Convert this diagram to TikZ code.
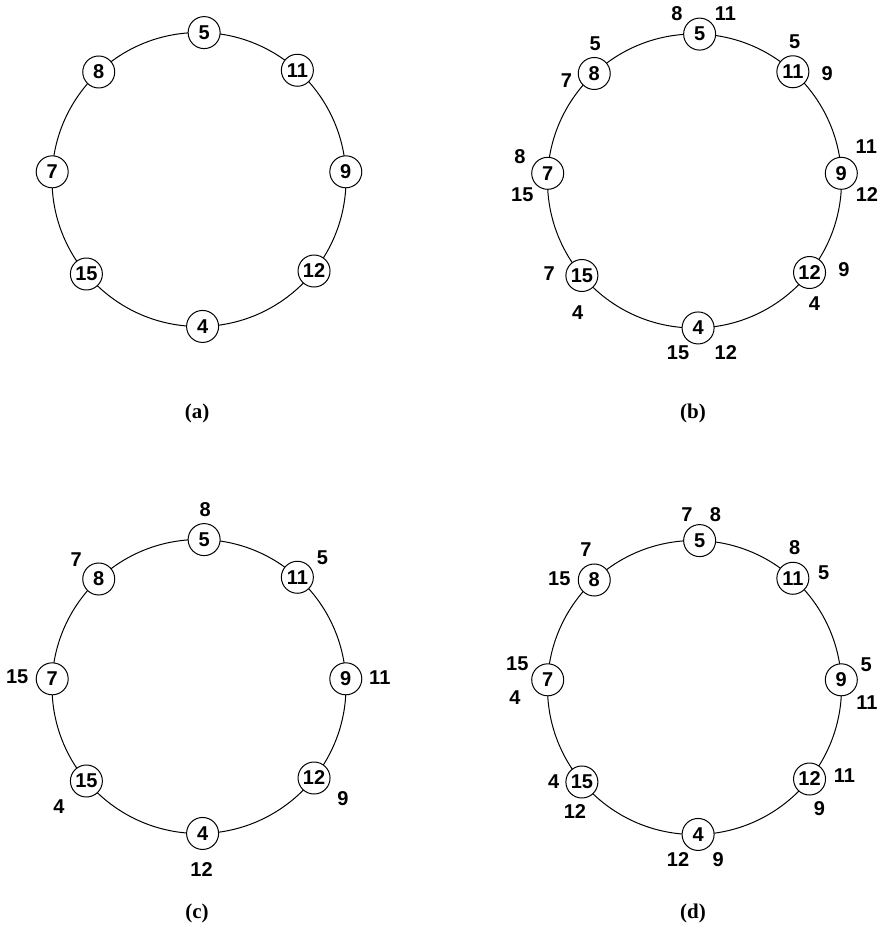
\documentclass[tikz,border=0pt]{standalone}
\usepackage{fontspec}
\setmainfont{Liberation Serif}
\setsansfont{Liberation Sans}

\begin{document}
\begin{tikzpicture}[x=0.5pt, y=-0.5pt,
    ring/.style={line width=0.5pt},
    peer/.style={circle, draw, line width=0.5pt, fill=white, inner sep=0pt,
      minimum size=16pt, font=\sffamily\bfseries\fontsize{10}{11}\selectfont},
    tag/.style={inner sep=0pt, font=\sffamily\bfseries\fontsize{10}{11}\selectfont},
    caption/.style={inner sep=0pt, font=\rmfamily\bfseries\fontsize{10.5}{12}\selectfont}]

  % units are pixels, y runs downwards
  \useasboundingbox (0,0) rectangle (882,926);

  % ring radius
  \def\rad{147}

  % Draw the 4 rings with their peers
  \foreach \p/\cx/\cy/\tx/\ty in {a/199/179.5/197/413, b/694.5/181/693/413,
                                   c/199/686.5/197/913, d/694.5/687.5/693/913} {
    \coordinate (\p0) at (\cx,\cy);
    \draw[ring] (\p0) circle (\rad);
    % Peers (angles clockwise)
    \foreach \n/\ang in {5/-88, 11/-48, 9/-3, 12/38.5, 4/88.6, 15/140, 7/183, 8/-133} {
      \node[peer] (\p\n) at ([shift={(\ang:\rad)}]\p0) {\n};
    }
    % Caption below
    \node[caption] (\p cap) at (\tx,\ty) {(\p)};
  }

  % Neighbour lists next to the peers
  \foreach \at/\txt/\dx/\dy in {
      b5/8/-22.6/-20.7,  b5/11/25.7/-20.7,
      b8/5/1/-30,        b8/7/-27.7/7.6,
      b11/5/1.7/-30,     b11/9/34.4/2.3,
      b7/8/-27.7/-16.7,  b7/15/-25.4/21.6,
      b9/11/25/-26.7,    b9/12/25.6/21.6,
      b15/7/-32.7/-1.7,  b15/4/-4.3/36.7,
      b12/9/34.4/-2.4,   b12/4/5/31,
      b4/15/-20/25,      b4/12/27.7/25,
      c5/8/1/-30,        c8/7/-22.6/-19.4,
      c11/5/25/-19.4,    c7/15/-35/-2.3,
      c9/11/34/-0.7,     c15/4/-27.4/25.6,
      c12/9/29/21,       c4/12/-1/35.7,
      d5/7/-12.6/-26,    d5/8/15.7/-26,
      d8/7/-8.3/-30,     d8/15/-35/-1,
      d11/8/1.7/-31,     d11/5/30.7/-5.6,
      d7/15/-30.4/-15.6, d7/4/-32.7/17.7,
      d9/5/25/-15,       d9/11/25.6/22.6,
      d15/4/-28.3/0,     d15/12/-7/30,
      d12/11/35/-3.3,    d12/9/10/30,
      d4/12/-20/25,      d4/9/20/25} {
    \node[tag] (\at-\txt) at ([shift={(\dx,\dy)}]\at) {\txt};
  }

\end{tikzpicture}
\end{document}
